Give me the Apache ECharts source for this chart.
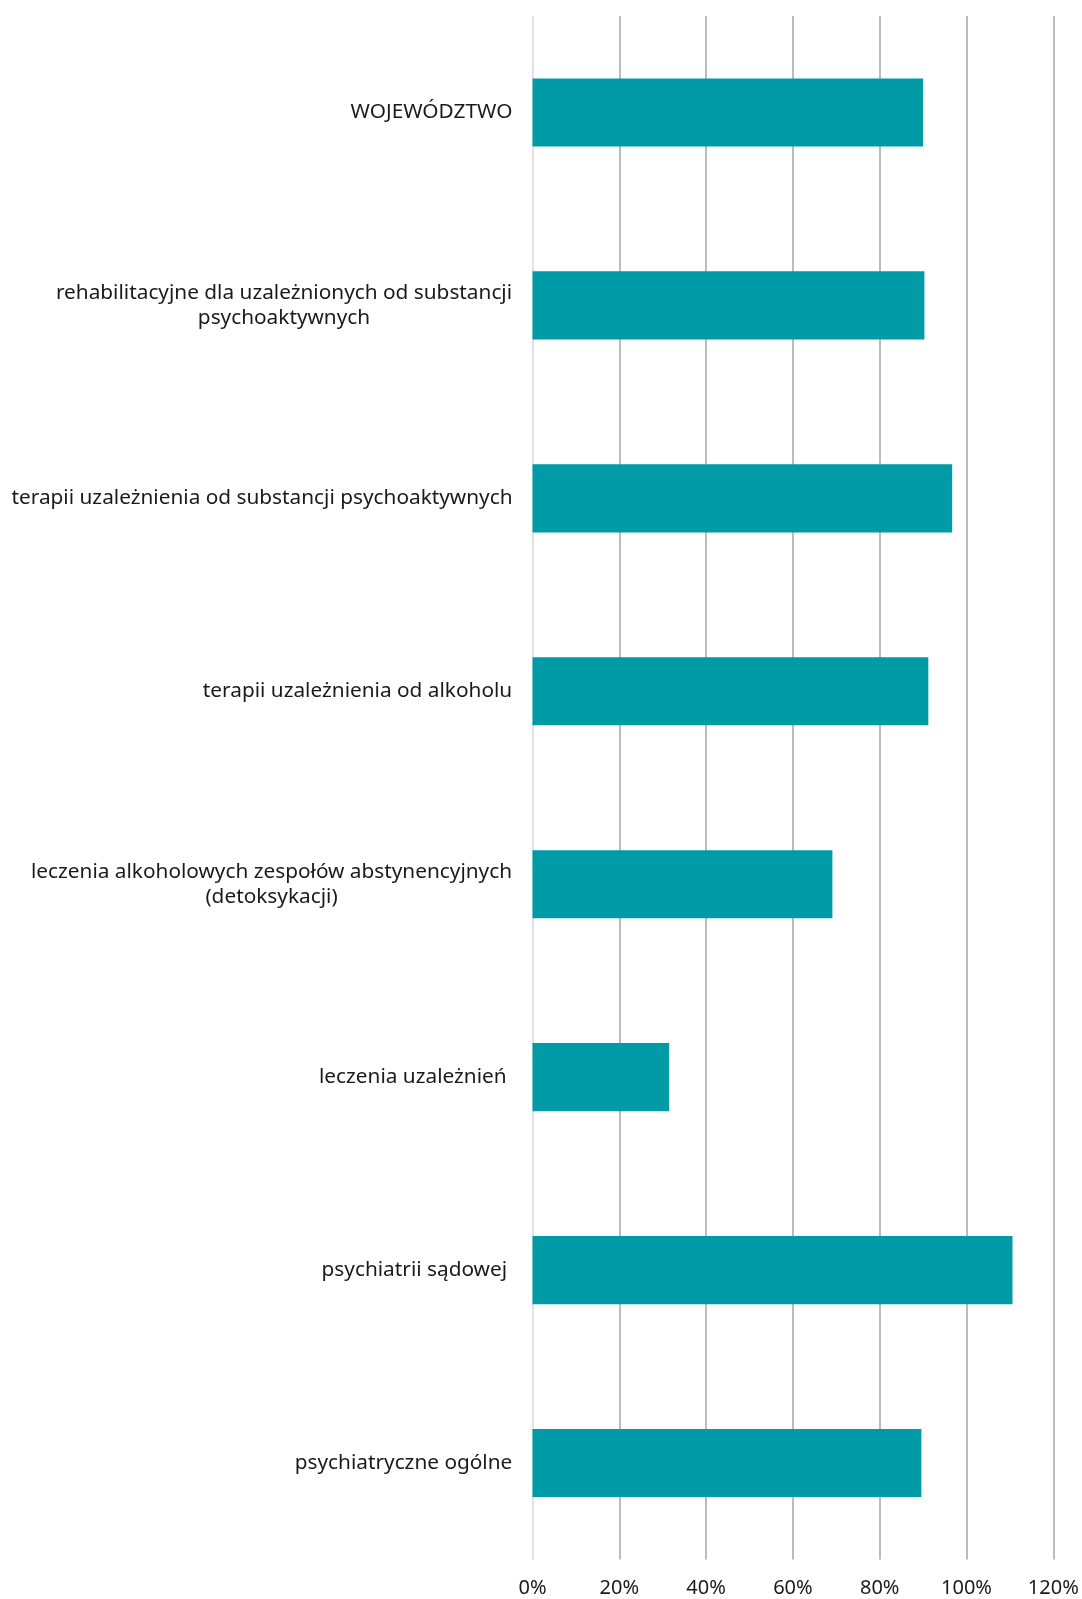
<!DOCTYPE html>
<html>
<head>
<meta charset="utf-8">
<script src="https://cdn.jsdelivr.net/npm/echarts@6/dist/echarts.min.js"></script>
<style>
  html, body { margin: 0; padding: 0; background: #fff; }
  #chart { width: 1082px; height: 1599px; }
</style>
</head>
<body>
<div id="chart"></div>
<script>
// kategorie od góry do dołu
const categories = [
  'WOJEWÓDZTWO',
  'rehabilitacyjne dla uzależnionych od substancji\npsychoaktywnych',
  'terapii uzależnienia od substancji psychoaktywnych',
  'terapii uzależnienia od alkoholu',
  'leczenia alkoholowych zespołów abstynencyjnych\n(detoksykacji)',
  'leczenia uzależnień ',
  'psychiatrii sądowej ',
  'psychiatryczne ogólne'
];
// wartości w %
const values = [90.0, 90.3, 96.7, 91.2, 69.1, 31.5, 110.6, 89.6];
const tickMin = 0;
const tickMax = 120;
const tickStep = 20;

const fontFamily = '"Noto Sans", "Open Sans", sans-serif';
const labelSize = 20.8;

// szerokość najdłuższej linii -> wieloliniowe etykiety wyśrodkowane w bloku
const ctx = document.createElement('canvas').getContext('2d');
ctx.font = `${labelSize}px ${fontFamily}`;
const rich = {};
categories.forEach((c, i) => {
  const w = Math.max(...c.split('\n').map((s) => ctx.measureText(s).width));
  rich['c' + i] = { width: Math.ceil(w), align: 'center', fontSize: labelSize, fontFamily, color: '#1a1a1a', lineHeight: 25 };
});

const chart = echarts.init(document.getElementById('chart'));
const options = {
  animation: false,
  color: ['#009ba6'],
  grid: {
    left: 532.5,
    right: 28.7,
    top: 16,
    bottom: 39.5,
    outerBoundsMode: 'none'
  },
  xAxis: {
    type: 'value',
    min: tickMin,
    max: tickMax,
    interval: tickStep,
    axisLine: { show: false },
    axisTick: { show: false },
    axisLabel: {
      formatter: '{value}%',
      color: '#1a1a1a',
      fontSize: 20,
      fontFamily,
      margin: 19
    },
    splitLine: {
      show: true,
      lineStyle: {
        // pierwsza linia (0%) jaśniejsza
        color: ['#d9d9d9', '#a6a6a6', '#a6a6a6', '#a6a6a6', '#a6a6a6', '#a6a6a6', '#a6a6a6'],
        width: 1.5
      }
    }
  },
  yAxis: {
    type: 'category',
    inverse: true,
    data: categories,
    axisLine: { show: false },
    axisTick: { show: false },
    axisLabel: {
      color: '#1a1a1a',
      fontSize: labelSize,
      fontFamily,
      lineHeight: 25,
      margin: 20,
      formatter(value, index) {
        return value.split('\n').map((s) => `{c${index}|${s}}`).join('\n');
      },
      rich
    }
  },
  series: [{
    type: 'bar',
    data: values,
    barCategoryGap: '64.7%'
  }]
};
chart.setOption(options);
</script>
</body>
</html>
